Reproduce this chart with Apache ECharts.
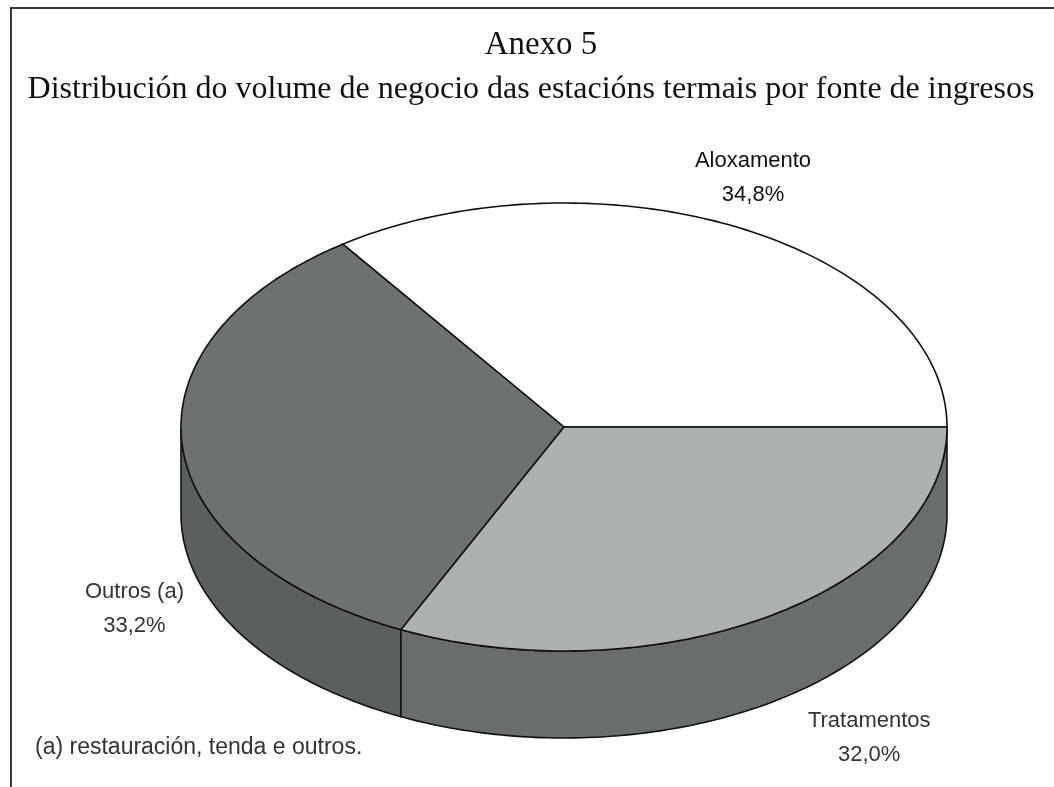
<!DOCTYPE html>
<html>
<head>
<meta charset="utf-8">
<script src="https://cdn.jsdelivr.net/npm/echarts@6/dist/echarts.min.js"></script>
<style>
  html, body { margin: 0; padding: 0; background: #fff; }
  #chart { width: 1054px; height: 787px; }
</style>
</head>
<body>
<div id="chart"></div>
<script>
// data
const categories = ["Aloxamento", "Outros (a)", "Tratamentos"];
const shares = [34.8, 33.2, 32.0];
const shareLabels = ["34,8%", "33,2%", "32,0%"];

const topColors = ["#ffffff", "#6d7172", "#adb1b2"];
const sideColors = ["#ffffff", "#5b5f60", "#696d6e"];

// pie geometry (pixels)
const cx = 564, cy = 427, rx = 383, ry = 224, depth = 87;
// where each label sits relative to its slice's rim point
const labelShift = [[13, -50], [-48, 162], [100, 122]];

const total = shares.reduce((a, b) => a + b, 0);
const startAngles = [];
let acc = 0;
shares.forEach((v) => {
  startAngles.push((acc / total) * 360);
  acc += v;
});

function rim(deg, dy) {
  const t = (deg * Math.PI) / 180;
  return [cx + rx * Math.cos(t), cy - ry * Math.sin(t) + (dy || 0)];
}

function arcPoints(a0, a1, dy) {
  const pts = [];
  const n = Math.max(2, Math.ceil(Math.abs(a1 - a0)));
  for (let k = 0; k <= n; k++) {
    pts.push(rim(a0 + ((a1 - a0) * k) / n, dy));
  }
  return pts;
}

const chart = echarts.init(document.getElementById("chart"));

const option = {
  animation: false,
  graphic: [
    {
      type: "rect",
      shape: { x: 11, y: 8, width: 1100, height: 900 },
      style: { fill: "none", stroke: "#3a3a3a", lineWidth: 2 },
      z: 0,
    },
    {
      type: "text",
      x: 541,
      y: 45,
      style: {
        text: "Anexo 5",
        font: "33px 'Liberation Serif', 'Times New Roman', serif",
        fill: "#111",
        textAlign: "center",
        textVerticalAlign: "middle",
      },
    },
    {
      type: "text",
      x: 531,
      y: 90,
      style: {
        text: "Distribución do volume de negocio das estacións termais por fonte de ingresos",
        font: "32px 'Liberation Serif', 'Times New Roman', serif",
        fill: "#111",
        textAlign: "center",
        textVerticalAlign: "middle",
      },
    },
    {
      type: "text",
      x: 35,
      y: 748,
      style: {
        text: "(a) restauración, tenda e outros.",
        font: "23px 'Liberation Sans', Arial, sans-serif",
        fill: "#333",
        textAlign: "left",
        textVerticalAlign: "middle",
      },
    },
  ],
  series: [
    {
      // side walls, only the front half shows
      type: "custom",
      coordinateSystem: "none",
      z: 1,
      data: shares.map((v, i) => [i, v]),
      renderItem: function (params) {
        const i = params.dataIndex;
        const a0 = startAngles[i];
        const a1 = a0 + (shares[i] / total) * 360;
        const s = Math.max(a0, 180);
        const e = Math.min(a1, 360);
        if (s >= e) return null;
        const top = arcPoints(s, e, 0);
        const bottom = arcPoints(e, s, depth);
        return {
          type: "polygon",
          shape: { points: top.concat(bottom) },
          style: { fill: sideColors[i], stroke: "#111", lineWidth: 1.6 },
        };
      },
    },
    {
      // top face
      type: "custom",
      coordinateSystem: "none",
      z: 2,
      data: shares.map((v, i) => [i, v]),
      renderItem: function (params) {
        const i = params.dataIndex;
        const a0 = startAngles[i];
        const a1 = a0 + (shares[i] / total) * 360;
        const pts = [[cx, cy]].concat(arcPoints(a0, a1, 0));
        const mid = rim((a0 + a1) / 2, 0);
        const lx = mid[0] + labelShift[i][0];
        const ly = mid[1] + labelShift[i][1];
        const txt = {
          font: "22px 'Liberation Sans', Arial, sans-serif",
          fill: i === 0 ? "#111" : "#333",
          textAlign: "center",
          textVerticalAlign: "middle",
        };
        return {
          type: "group",
          children: [
            {
              type: "polygon",
              shape: { points: pts },
              style: { fill: topColors[i], stroke: "#111", lineWidth: 1.6 },
            },
            {
              type: "text",
              x: lx,
              y: ly - 17,
              style: Object.assign({ text: categories[i] }, txt),
            },
            {
              type: "text",
              x: lx,
              y: ly + 17,
              style: Object.assign({ text: shareLabels[i] }, txt),
            },
          ],
        };
      },
    },
  ],
};

chart.setOption(option);
</script>
</body>
</html>
